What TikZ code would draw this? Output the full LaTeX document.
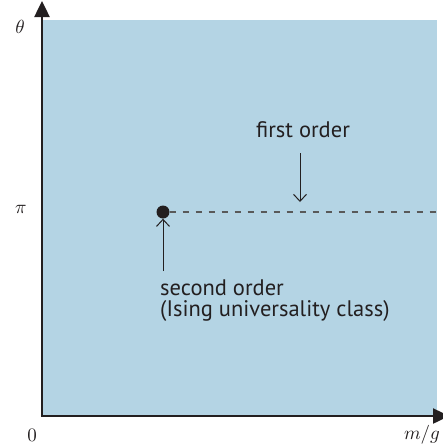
\documentclass[tikz,border=0pt]{standalone}
\usepackage{fontspec}
\setsansfont{PT Sans}
\usetikzlibrary{arrows.meta,positioning}
\definecolor{phaseblue}{RGB}{180,212,228}
\definecolor{inkdark}{RGB}{35,31,32}
\newcommand{\axismath}[1]{\scalebox{1.9}{$#1$}}

\begin{document}
\begin{tikzpicture}[
    x=1pt, y=-1pt,
    every node/.style={text=inkdark},
    axis/.style={line width=2.5pt, inkdark, -{Triangle[length=16pt,width=15pt]}},
    axislabel/.style={inner sep=1pt},
    phase/.style={fill=phaseblue},
    remark/.style={font=\sffamily\fontsize{22.5}{21}\selectfont, align=left, inner sep=0pt},
    pointer/.style={line width=1pt, inkdark, -{Straight Barb[length=7pt,width=13pt]}},
    critical/.style={circle, fill=inkdark, minimum size=13pt, inner sep=0pt},
    transition/.style={line width=1.3pt, black!65, dash pattern=on 6.5pt off 6.5pt}
]
\useasboundingbox (0,0) rectangle (443,445);

% Phase region
\fill[phase] (42,20) rectangle (437,415);

% Axes
\coordinate (origin) at (42,416);
\coordinate (ytip) at (42,1);
\coordinate (xtip) at (449,416);
\draw[axis] (origin) -- (ytip);
\draw[axis] ([xshift=-1.25pt]origin) -- (xtip);

% Critical end point and first order line
\node[critical] (endpt) at (163,212) {};
\coordinate (lineend) at (437,212);
\draw[transition] (endpt.east) -- (lineend);

% First order
\node[remark, anchor=base] (first) at (303,137) {first order};
\coordinate (firsttip) at (300,202);
\coordinate (firsttail) at (300,153);
\draw[pointer] (firsttail) -- (firsttip);

% Second order
\node[remark, anchor=north west] (second) at (160,280)
    {second order\\(Ising universality class)};
\coordinate (secondtail) at (163,271);
\draw[pointer] (secondtail) -- (endpt.south);

% Axis labels
\node[axislabel] (theta) at (20,27) {\axismath{\theta}};
\node[axislabel] (pi) at (21,209) {\axismath{\pi}};
\node[axislabel] (zero) at (32,435) {\axismath{0}};
\node[axislabel] (mg) at (422,435) {\axismath{m/g}};

\end{tikzpicture}
\end{document}
